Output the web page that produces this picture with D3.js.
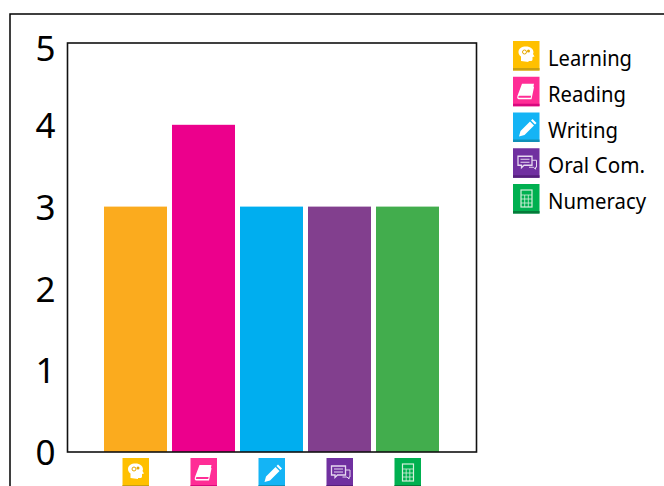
<!DOCTYPE html>
<html>
<head>
<meta charset="utf-8">
<script src="https://cdn.jsdelivr.net/npm/d3@7"></script>
<style>
html, body { margin: 0; padding: 0; background: #fff; overflow: hidden; }
svg { display: block; }
text { font-family: "Noto Sans", sans-serif; }
</style>
</head>
<body>
<svg id="chart" width="664" height="486"></svg>
<script>
const categories = ["Learning", "Reading", "Writing", "Oral Com.", "Numeracy"];
const values = [3, 4, 3, 3, 3];
const barColors = ["#fbab1e", "#ec008c", "#00aeef", "#823f8e", "#42ad4d"];
const iconColors = ["#ffc000", "#ff2d96", "#14b4f5", "#7030a0", "#00b050"];
const iconShades = ["#c9a010", "#d8087e", "#1090b8", "#55207c", "#067a3a"];
const yTicks = [0, 1, 2, 3, 4, 5];
const legendWidths = [84, 78, 70, 97, 98];

const svg = d3.select("#chart");

// outer frame, runs off the right and bottom of the picture
svg.append("rect")
    .attr("x", 10).attr("y", 14)
    .attr("width", 700).attr("height", 520)
    .attr("fill", "none")
    .attr("stroke", "#000")
    .attr("stroke-width", 1.5);

const xscale = d3.scaleBand()
    .domain(categories)
    .range([101.5, 441.5])
    .paddingInner(0.0735)
    .paddingOuter(0.0368);

const yscale = d3.scaleLinear()
    .domain([0, 5])
    .range([452, 43]);

svg.selectAll(".bar")
    .data(categories)
    .join("rect")
    .attr("class", "bar")
    .attr("x", d => xscale(d))
    .attr("y", (d, i) => yscale(values[i]))
    .attr("width", xscale.bandwidth())
    .attr("height", (d, i) => yscale(0) - yscale(values[i]))
    .attr("fill", (d, i) => barColors[i]);

// plot box
svg.append("rect")
    .attr("x", 67.5).attr("y", 43)
    .attr("width", 409).attr("height", 409)
    .attr("fill", "none")
    .attr("stroke", "#111")
    .attr("stroke-width", 1.6);

const yaxis = d3.axisLeft(yscale).tickValues(yTicks).tickFormat(d3.format("d")).tickSize(0).tickPadding(12);
const yg = svg.append("g").attr("transform", "translate(67.5,0)").call(yaxis);
yg.select(".domain").remove();
yg.selectAll("text")
    .attr("font-size", 35)
    .attr("fill", "#000")
    .attr("dy", d => d == 5 ? "0.49em" : "0.36em");

// small glyphs inside the icon tiles, drawn in a 27x30 box
const glyphs = [
    g => {
        g.append("path").attr("d", "M8 20v-4.5c-2-1.500-2.500-3-2.500-4.500 0-3.500 3.200-5.500 7.500-5.500 4.500 0 7.500 2.500 7.500 6l-.5 1.500 1.500 2.500-2 .5v2.500c0 1-1 1.500-2 1.500h-2v1z").attr("fill", "#fff");
        g.append("circle").attr("cx", 11.500).attr("cy", 11).attr("r", 2).attr("fill", "none").attr("stroke", "#e6a800").attr("stroke-width", 1);
        g.append("circle").attr("cx", 15.500).attr("cy", 10).attr("r", 1.500).attr("fill", "#e6a800");
    },
    g => {
        g.append("path").attr("d", "M9 7h12l-2.500 12H6.500c-1.200 0-1.500 1-.8 2h12l2.800-11.500 .5 1-2.500 12H6c-2 0-2-2-1.500-3.500z").attr("fill", "#fff");
    },
    g => {
        g.append("path").attr("d", "M6 24l1.500-5.500 9.500-9.500 4 4-9.500 9.500z M18 8l1.500-1.500 4 4-1.500 1.500z").attr("fill", "#fff");
    },
    g => {
        g.append("path").attr("d", "M5 8h14v9h-8l-2.500 2.500v-2.500H5z").attr("fill", "none").attr("stroke", "#e6d8f0").attr("stroke-width", 1.300);
        g.append("path").attr("d", "M7.500 11h9M7.500 14h9").attr("stroke", "#e6d8f0");
        g.append("path").attr("d", "M19 12h4.500v7h-1v2l-2-2H16").attr("fill", "none").attr("stroke", "#e6d8f0");
    },
    g => {
        g.append("rect").attr("x", 8).attr("y", 6).attr("width", 11).attr("height", 17).attr("fill", "none").attr("stroke", "#d5f0dd").attr("stroke-width", 1.200);
        g.append("path").attr("d", "M8 11h11M8 15h11M8 19h11M11.700 11v12M15.300 11v12").attr("stroke", "#d5f0dd").attr("stroke-width", 0.800);
    }
];

function drawIcon(parent, i, x, y) {
    const g = parent.append("g").attr("transform", `translate(${x},${y})`);
    g.append("rect").attr("width", 26.5).attr("height", 29.5).attr("fill", iconColors[i]);
    g.append("rect").attr("y", 27).attr("width", 26.5).attr("height", 2.5).attr("fill", iconShades[i]);
    glyphs[i](g);
}

// tiles under the bars
categories.forEach((c, i) => {
    drawIcon(svg, i, xscale(c) + xscale.bandwidth() / 2 - 13, 458);
});

// legend
const legendY = d3.scalePoint().domain(categories).range([41, 184]);
categories.forEach((c, i) => {
    drawIcon(svg, i, 513, legendY(c));
    svg.append("text")
        .attr("x", 548)
        .attr("y", legendY(c) + 25)
        .attr("font-size", 22)
        .attr("textLength", legendWidths[i])
        .attr("lengthAdjust", "spacingAndGlyphs")
        .attr("fill", "#000")
        .text(c);
});
</script>
</body>
</html>
